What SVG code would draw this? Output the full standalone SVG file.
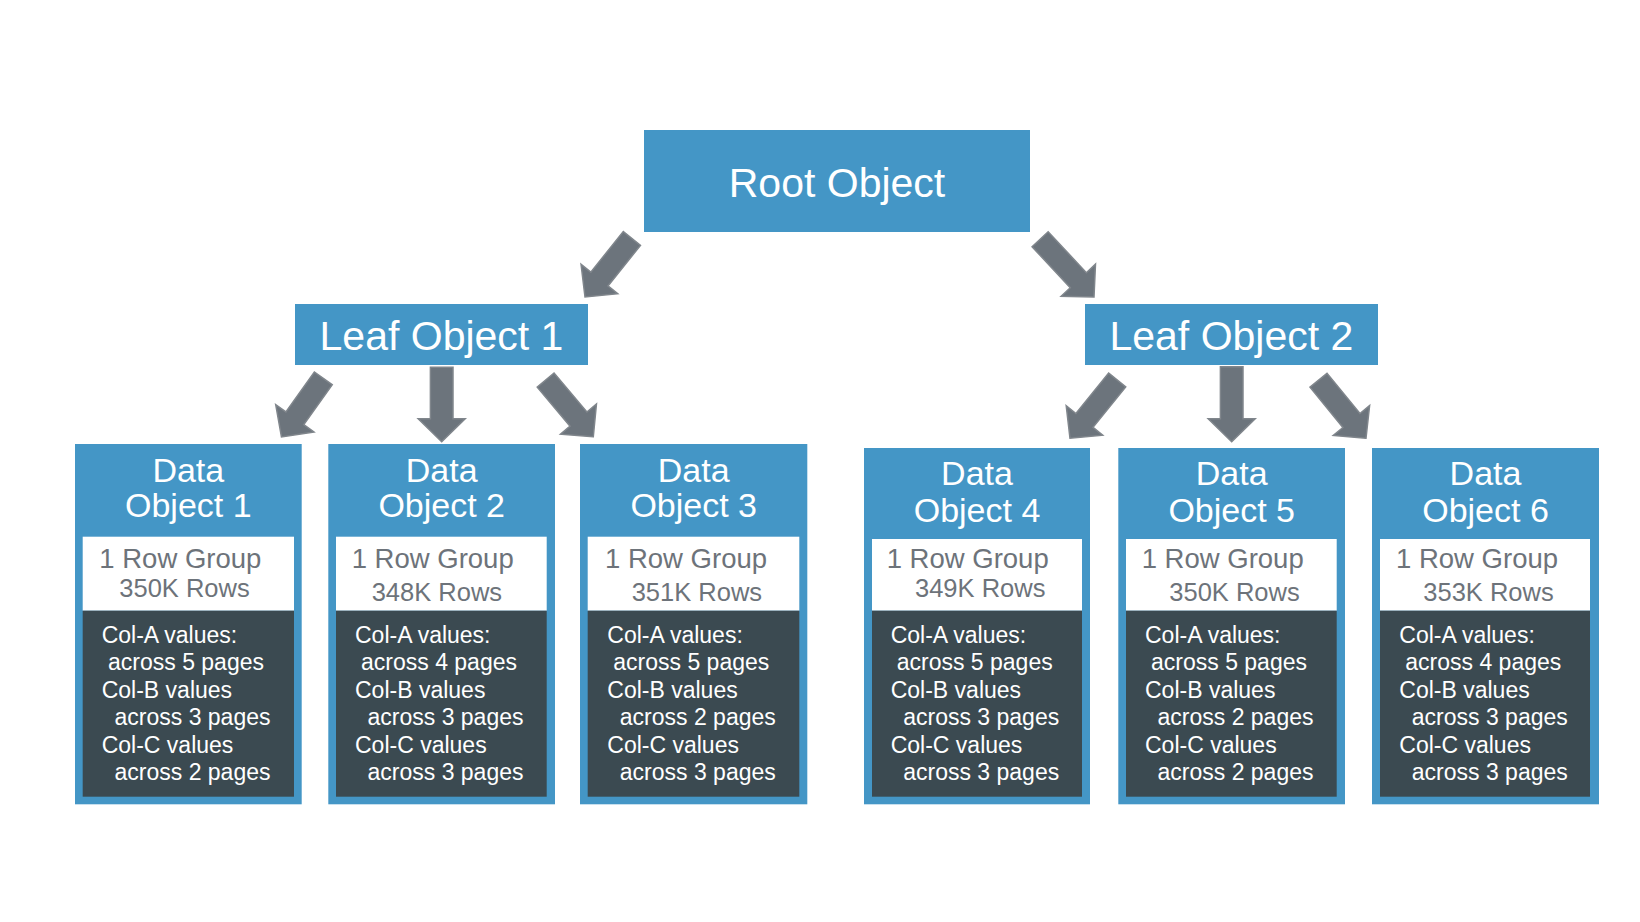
<svg xmlns="http://www.w3.org/2000/svg" width="1640" height="922" viewBox="0 0 1640 922">
<defs>
<style>
.blue{fill:#4496c6}
.white{fill:#ffffff}
.dark{fill:#3b4a51}
.big{font-family:"Liberation Sans",Arial,sans-serif;font-size:41px;fill:#ffffff;text-anchor:middle}
.title{font-family:"Liberation Sans",Arial,sans-serif;font-size:34px;fill:#ffffff;text-anchor:middle}
.rg{font-family:"Liberation Sans",Arial,sans-serif;font-size:27.5px;fill:#6d737a}
.rows{font-family:"Liberation Sans",Arial,sans-serif;font-size:25.5px;fill:#6d737a}
.col{font-family:"Liberation Sans",Arial,sans-serif;font-size:23px;fill:#ffffff}
.arrow{fill:#6c747c;stroke:#80868c;stroke-width:1.5;stroke-linejoin:miter}
</style>
</defs>
<rect width="1640" height="922" fill="#ffffff"/>
<g id="connectors">
<path class="arrow" d="M0,0 L-23.5,-23 L-11,-23 L-11,-75 L11,-75 L11,-23 L23.5,-23 Z" transform="translate(585,297) rotate(38.7)"/>
<path class="arrow" d="M0,0 L-23.5,-23 L-11,-23 L-11,-79 L11,-79 L11,-23 L23.5,-23 Z" transform="translate(1094,297) rotate(-43)"/>
<path class="arrow" d="M0,0 L-23.5,-23 L-11,-23 L-11,-72 L11,-72 L11,-23 L23.5,-23 Z" transform="translate(281.5,437) rotate(35.5)"/>
<path class="arrow" d="M0,0 L-23.5,-23 L-11.3,-23 L-11.3,-74.4 L11.3,-74.4 L11.3,-23 L23.5,-23 Z" transform="translate(441.7,441.7)"/>
<path class="arrow" d="M0,0 L-23.5,-23 L-11,-23 L-11,-74 L11,-74 L11,-23 L23.5,-23 Z" transform="translate(593.3,436.7) rotate(-40.1)"/>
<path class="arrow" d="M0,0 L-23.5,-23 L-11,-23 L-11,-75 L11,-75 L11,-23 L23.5,-23 Z" transform="translate(1070,438.3) rotate(39)"/>
<path class="arrow" d="M0,0 L-23.5,-23 L-11.3,-23 L-11.3,-75 L11.3,-75 L11.3,-23 L23.5,-23 Z" transform="translate(1231.7,441.7)"/>
<path class="arrow" d="M0,0 L-23.5,-23 L-11,-23 L-11,-75 L11,-75 L11,-23 L23.5,-23 Z" transform="translate(1366,438.3) rotate(-39.3)"/>
</g>
<g id="root">
<rect class="blue" x="644" y="130" width="386" height="102"/>
<text class="big" x="837" y="197">Root Object</text>
</g>
<g id="leaf1">
<rect class="blue" x="295" y="304" width="293" height="61"/>
<text class="big" x="441.5" y="350">Leaf Object 1</text>
</g>
<g id="leaf2">
<rect class="blue" x="1085" y="304" width="293" height="61"/>
<text class="big" x="1231.4" y="350">Leaf Object 2</text>
</g>
<g id="data1">
<rect class="blue" x="75" y="444" width="226.7" height="360.3"/>
<rect class="white" x="82.7" y="536.7" width="211.3" height="74"/>
<rect class="dark" x="82.7" y="610.7" width="211.3" height="186"/>
<text class="title" x="188.3" y="481.7">Data</text>
<text class="title" x="188.3" y="516.7">Object 1</text>
<text class="rg" x="99.3" y="568.3">1 Row Group</text>
<text class="rows" x="119.3" y="596.7">350K Rows</text>
<text class="col" x="101.7" y="642.5">Col-A values:</text>
<text class="col" x="108" y="670">across 5 pages</text>
<text class="col" x="101.7" y="697.5">Col-B values</text>
<text class="col" x="114.5" y="725">across 3 pages</text>
<text class="col" x="101.7" y="752.5">Col-C values</text>
<text class="col" x="114.5" y="780">across 2 pages</text>
</g>
<g id="data2">
<rect class="blue" x="328.3" y="444" width="226.7" height="360.3"/>
<rect class="white" x="336" y="536.7" width="210.7" height="74"/>
<rect class="dark" x="336" y="610.7" width="210.7" height="186"/>
<text class="title" x="441.7" y="481.7">Data</text>
<text class="title" x="441.7" y="516.7">Object 2</text>
<text class="rg" x="351.7" y="568.3">1 Row Group</text>
<text class="rows" x="371.7" y="600.7">348K Rows</text>
<text class="col" x="355" y="642.5">Col-A values:</text>
<text class="col" x="361" y="670">across 4 pages</text>
<text class="col" x="355" y="697.5">Col-B values</text>
<text class="col" x="367.5" y="725">across 3 pages</text>
<text class="col" x="355" y="752.5">Col-C values</text>
<text class="col" x="367.5" y="780">across 3 pages</text>
</g>
<g id="data3">
<rect class="blue" x="580" y="444" width="227.3" height="360.3"/>
<rect class="white" x="587.7" y="536.7" width="211.6" height="74"/>
<rect class="dark" x="587.7" y="610.7" width="211.6" height="186"/>
<text class="title" x="693.7" y="481.7">Data</text>
<text class="title" x="693.7" y="516.7">Object 3</text>
<text class="rg" x="605" y="568.3">1 Row Group</text>
<text class="rows" x="631.7" y="600.7">351K Rows</text>
<text class="col" x="607.3" y="642.5">Col-A values:</text>
<text class="col" x="613.3" y="670">across 5 pages</text>
<text class="col" x="607.3" y="697.5">Col-B values</text>
<text class="col" x="619.8" y="725">across 2 pages</text>
<text class="col" x="607.3" y="752.5">Col-C values</text>
<text class="col" x="619.8" y="780">across 3 pages</text>
</g>
<g id="data4">
<rect class="blue" x="864" y="448" width="226" height="356.3"/>
<rect class="white" x="872" y="539" width="210" height="71.7"/>
<rect class="dark" x="872" y="610.7" width="210" height="186"/>
<text class="title" x="977" y="485">Data</text>
<text class="title" x="977" y="521.7">Object 4</text>
<text class="rg" x="886.7" y="568.3">1 Row Group</text>
<text class="rows" x="915" y="596.7">349K Rows</text>
<text class="col" x="890.7" y="642.5">Col-A values:</text>
<text class="col" x="896.7" y="670">across 5 pages</text>
<text class="col" x="890.7" y="697.5">Col-B values</text>
<text class="col" x="903.2" y="725">across 3 pages</text>
<text class="col" x="890.7" y="752.5">Col-C values</text>
<text class="col" x="903.2" y="780">across 3 pages</text>
</g>
<g id="data5">
<rect class="blue" x="1118.3" y="448" width="226.7" height="356.3"/>
<rect class="white" x="1126" y="539" width="210.7" height="71.7"/>
<rect class="dark" x="1126" y="610.7" width="210.7" height="186"/>
<text class="title" x="1231.7" y="485">Data</text>
<text class="title" x="1231.7" y="521.7">Object 5</text>
<text class="rg" x="1141.7" y="568.3">1 Row Group</text>
<text class="rows" x="1169.3" y="600.7">350K Rows</text>
<text class="col" x="1145" y="642.5">Col-A values:</text>
<text class="col" x="1151" y="670">across 5 pages</text>
<text class="col" x="1145" y="697.5">Col-B values</text>
<text class="col" x="1157.5" y="725">across 2 pages</text>
<text class="col" x="1145" y="752.5">Col-C values</text>
<text class="col" x="1157.5" y="780">across 2 pages</text>
</g>
<g id="data6">
<rect class="blue" x="1372" y="448" width="227" height="356.3"/>
<rect class="white" x="1380" y="539" width="210" height="71.7"/>
<rect class="dark" x="1380" y="610.7" width="210" height="186"/>
<text class="title" x="1485.5" y="485">Data</text>
<text class="title" x="1485.5" y="521.7">Object 6</text>
<text class="rg" x="1396" y="568.3">1 Row Group</text>
<text class="rows" x="1423.3" y="600.7">353K Rows</text>
<text class="col" x="1399.3" y="642.5">Col-A values:</text>
<text class="col" x="1405.3" y="670">across 4 pages</text>
<text class="col" x="1399.3" y="697.5">Col-B values</text>
<text class="col" x="1411.8" y="725">across 3 pages</text>
<text class="col" x="1399.3" y="752.5">Col-C values</text>
<text class="col" x="1411.8" y="780">across 3 pages</text>
</g>
</svg>
